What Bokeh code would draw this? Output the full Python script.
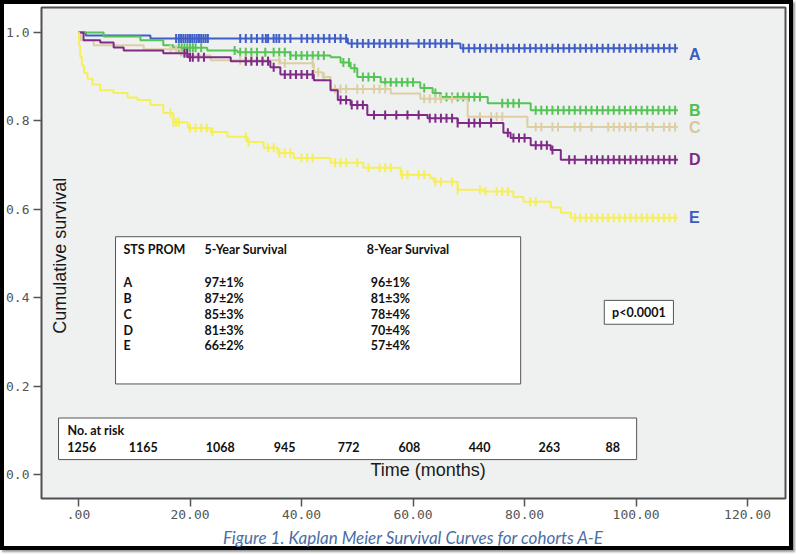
import numpy as np
from bokeh.plotting import figure
from bokeh.models import (FixedTicker, CustomJSTickFormatter, Label, Range1d)
from bokeh.core.properties import value
from bokeh.embed import file_html
from bokeh.resources import INLINE

# ---------------- data ----------------
cohorts = ["A", "B", "C", "D", "E"]
colors = ["#3f5fc7", "#55c455", "#dccfa3", "#7f2a86", "#f5ef5a"]
label_colors = ["#3d5bc2", "#4fbf4f", "#d6c898", "#7f2a86", "#3d5bc2"]
end_time = 107.5

A_t = [0, 1.3, 12.9, 48.3, 68.5]
A_s = [1.0, 0.993, 0.986, 0.975, 0.964]

B_t = [0, 4.5, 11.1, 15.2, 17.0, 23.1, 28.5, 38.0, 45.2, 47.0, 48.8, 50.0, 54.2,
       61.3, 63.5, 64.9, 73.4, 81.1]
B_s = [1.0, 0.991, 0.982, 0.971, 0.965, 0.959, 0.955, 0.948, 0.944, 0.932, 0.919,
       0.899, 0.887, 0.874, 0.863, 0.854, 0.840, 0.824]

C_t = [0, 0.4, 2.7, 11.7, 18.3, 23.7, 36.2, 42.2, 43.8, 45.2, 56.0, 61.3, 69.8, 80.5]
C_s = [1.0, 0.982, 0.971, 0.962, 0.948, 0.937, 0.930, 0.910, 0.899, 0.872, 0.862,
       0.850, 0.809, 0.786]

D_t = [0, 0.9, 3.9, 6.3, 8.1, 15.2, 19.6, 27.3, 34.4, 36.2, 42.2, 45.2, 46.5, 48.8,
       51.8, 62.6, 68.0, 76.2, 77.5, 81.1, 84.7, 86.5]
D_s = [1.0, 0.982, 0.977, 0.966, 0.959, 0.953, 0.944, 0.935, 0.921, 0.905, 0.892,
       0.869, 0.847, 0.836, 0.813, 0.806, 0.795, 0.773, 0.761, 0.745, 0.734, 0.712]

E_t = [0, 0.1, 0.3, 0.6, 1.0, 1.6, 2.5, 3.9, 6.3, 8.8, 10.6, 12.9, 15.2, 17.0, 19.6,
       23.7, 26.7, 30.3, 33.2, 35.7, 38.6, 45.2, 51.1, 57.8, 63.1, 63.7, 68.0, 72.6,
       78.0, 79.8, 84.7, 86.5, 88.3]
E_s = [1.0, 0.970, 0.945, 0.925, 0.908, 0.895, 0.882, 0.869, 0.863, 0.853, 0.847,
       0.836, 0.818, 0.797, 0.784, 0.775, 0.764, 0.752, 0.739, 0.727, 0.716, 0.705,
       0.694, 0.678, 0.671, 0.662, 0.644, 0.640, 0.628, 0.617, 0.604, 0.592, 0.581]

A_cens = [17.5, 18, 18.4, 18.8, 19.2, 19.6, 20, 20.4, 20.8, 21.2, 21.6, 22, 22.4, 22.8,
          23.2, 29, 30, 31, 32, 33, 33.6, 34, 35, 35.5, 36, 37, 38, 40, 41, 42, 43, 44,
          45, 46, 47, 48, 49, 50, 51, 52, 53, 54, 55, 56, 57, 58, 59, 61, 62, 63, 64,
          65, 66, 67, 69, 70, 71, 72, 73, 74, 75, 76, 77, 78, 79, 80, 81, 82, 83, 84,
          85, 86, 87, 88, 89, 90, 91, 92, 93, 94, 95, 96, 97, 98, 99, 100, 101, 102,
          103, 104, 105, 106, 107]
B_cens = [18, 18.5, 19, 19.5, 20, 20.5, 21, 22, 28, 29, 30, 31, 32, 33.5, 35, 36, 37,
          38, 39, 40, 41, 42, 43, 44, 47.5, 48.5, 49.5, 51, 52, 53, 55, 56, 57, 58, 59,
          60, 62, 64, 65, 66, 67, 68, 69, 70, 71, 72, 76, 77, 78, 79, 82, 83, 84, 85,
          86, 87, 88, 89, 90, 91, 92, 93, 94, 95, 96, 97, 98, 99, 100, 101, 102, 103,
          104, 105, 106, 107]
C_cens = [16.5, 17.5, 29, 30, 31, 33, 34, 36, 37, 42, 43, 44, 46, 47, 48, 50, 51, 53,
          54, 55, 62, 63, 64, 65, 67, 72, 74, 75, 76, 82, 83, 85, 86, 89, 90, 92, 95,
          96, 97, 98, 99, 100, 102, 103, 105, 106, 107]
D_cens = [19, 19.5, 20, 20.5, 21.5, 22.5, 30, 31, 32, 33, 34, 35, 37, 38, 39, 40, 41,
          42, 47, 48, 49, 50, 51, 53, 55, 57, 59, 61, 63, 64, 65, 66, 67, 68, 70, 71,
          72, 74, 77, 78, 79, 80, 82, 83, 84, 85, 88, 89, 91, 92, 93, 94, 95, 96, 97,
          98, 99, 100, 101, 102, 103, 104, 105, 106, 107]
E_cens = [16.5, 17, 17.5, 18, 20, 21, 22, 23, 24, 30, 30.5, 34, 35, 36, 37, 38, 40, 41,
          42, 46, 47, 48, 50, 52, 54, 55, 56, 58, 59, 61, 62, 64, 65, 67, 68, 72, 73,
          75, 76, 77, 81, 82, 89, 90, 91, 92, 93, 94, 95, 96, 97, 98, 99, 100, 101,
          102, 103, 104, 105, 106, 107]

five_year = ["97±1%", "87±2%", "85±3%", "81±3%", "66±2%"]
eight_year = ["96±1%", "81±3%", "78±4%", "70±4%", "57±4%"]
at_risk = ["1256", "1165", "1068", "945", "772", "608", "440", "263", "88"]
p_value = "p<0.0001"

x_ticks = [0, 20, 40, 60, 80, 100, 120]
y_ticks = [0.0, 0.2, 0.4, 0.6, 0.8, 1.0]

series_t = [A_t, B_t, C_t, D_t, E_t]
series_s = [A_s, B_s, C_s, D_s, E_s]
series_c = [A_cens, B_cens, C_cens, D_cens, E_cens]

# ---------------- figure ----------------
p = figure(width=793, height=550, output_backend="svg", toolbar_location=None,
           x_range=Range1d(-6.64, 126.8), y_range=Range1d(-0.054, 1.0563),
           min_border_left=41, min_border_right=8, min_border_top=7,
           min_border_bottom=50,
           styles={"box-shadow": "inset 0 0 0 4px #000000, 2px 2px 2px #9a9a9a"})
p.background_fill_color = "#eff0f0"
p.border_fill_color = None
p.outline_line_color = "#505050"
p.outline_line_width = 2
p.xgrid.visible = False
p.ygrid.visible = False

for ax in (p.xaxis[0], p.yaxis[0]):
    ax.axis_line_color = None
    ax.major_tick_line_color = "#555555"
    ax.major_tick_line_width = 1.5
    ax.minor_tick_line_color = None
    ax.major_tick_in = 0
    ax.major_label_text_font = "DejaVu Sans Mono"
    ax.major_label_text_font_size = "13px"
    ax.major_label_text_color = "#555555"

p.xaxis.ticker = FixedTicker(ticks=x_ticks)
p.yaxis.ticker = FixedTicker(ticks=y_ticks)
p.xaxis.major_tick_out = 8
p.yaxis.major_tick_out = 8
p.xaxis.major_label_standoff = 3
p.yaxis.major_label_standoff = 4
p.xaxis.formatter = CustomJSTickFormatter(
    code="return tick == 0 ? '.00' : tick.toFixed(2);")
p.yaxis.formatter = CustomJSTickFormatter(code="return tick.toFixed(1);")
p.xaxis.axis_label = "Figure 1. Kaplan Meier Survival Curves for cohorts A-E"
p.xaxis.axis_label_text_font = "Lato"
p.xaxis.axis_label_text_font_style = "italic"
p.xaxis.axis_label_text_font_size = "17px"
p.xaxis.axis_label_text_color = "#4a6ea6"
p.xaxis.axis_label_standoff = 5

# ---------------- curves ----------------
for name, t, s, cens, col in zip(cohorts, series_t, series_s, series_c, colors):
    tt = np.array(t + [end_time])
    ss = np.array(s + [s[-1]])
    p.step(tt, ss, mode="after", line_color=col, line_width=2)
    c = np.array(cens)
    idx = np.searchsorted(np.array(t), c, side="right") - 1
    cy = np.array(s)[idx]
    p.scatter(c, cy, marker="dash", angle=np.pi / 2, size=9,
              line_color=col, line_width=2)

# end labels
label_dy = [-6, 0, 0, 0, 0]
for name, s, lcol, dy in zip(cohorts, series_s, label_colors, label_dy):
    p.add_layout(Label(x=end_time + 2.0, y=s[-1], text=name, text_color=lcol,
                       text_font="Liberation Sans", text_font_style="bold",
                       text_font_size="16px", text_align="left",
                       text_baseline="middle", y_offset=dy))

# ---------------- boxes ----------------
p.quad(left=[6.64], right=[79.3], top=[0.538], bottom=[0.205],
       fill_color="white", line_color="#555555", line_width=1)
p.quad(left=[-3.59], right=[100.1], top=[0.128], bottom=[0.034],
       fill_color="white", line_color="#555555", line_width=1)
p.quad(left=[94.3], right=[106.7], top=[0.394], bottom=[0.340],
       fill_color="white", line_color="#555555", line_width=1)

tfont = value("Lato")
tsize = value("12.5px")
row_y = [0.435, 0.399, 0.363, 0.327, 0.291]
common = dict(text_font=tfont, text_font_size=tsize, text_font_style="bold",
              text_color="#111111", text_baseline="middle")
p.text(x=[8.07, 22.6, 51.7], y=[0.509] * 3,
       text=["STS PROM", "5-Year Survival", "8-Year Survival"],
       text_align="left", **common)
p.text(x=[8.07] * 5, y=row_y, text=cohorts, text_align="left", **common)
p.text(x=[22.6] * 5, y=row_y, text=five_year, text_align="left", **common)
p.text(x=[52.4] * 5, y=row_y, text=eight_year, text_align="left", **common)

risk_x = [-2.0, 9.0, 22.8, 35.0, 46.5, 57.4, 70.0, 82.5, 94.5]
p.text(x=[-1.97], y=[0.099], text=["No. at risk"], text_align="left", **common)
p.text(x=risk_x, y=[0.063] * len(at_risk), text=at_risk, text_align="left", **common)
p.text(x=[100.5], y=[0.367], text=[p_value], text_align="center", **common)

# axis titles drawn inside the frame (as in the original)
p.add_layout(Label(x=62.7, y=0.011, text="Time (months)", text_font="Liberation Sans",
                   text_font_size="18px", text_color="#1a1a1a", text_align="center",
                   text_baseline="middle"))
p.add_layout(Label(x=-3.4, y=0.495, text="Cumulative survival", angle=np.pi / 2,
                   text_font="Liberation Sans", text_font_size="18px",
                   text_color="#1a1a1a", text_align="center", text_baseline="middle"))

open("out.html", "w").write(file_html(p, INLINE))
